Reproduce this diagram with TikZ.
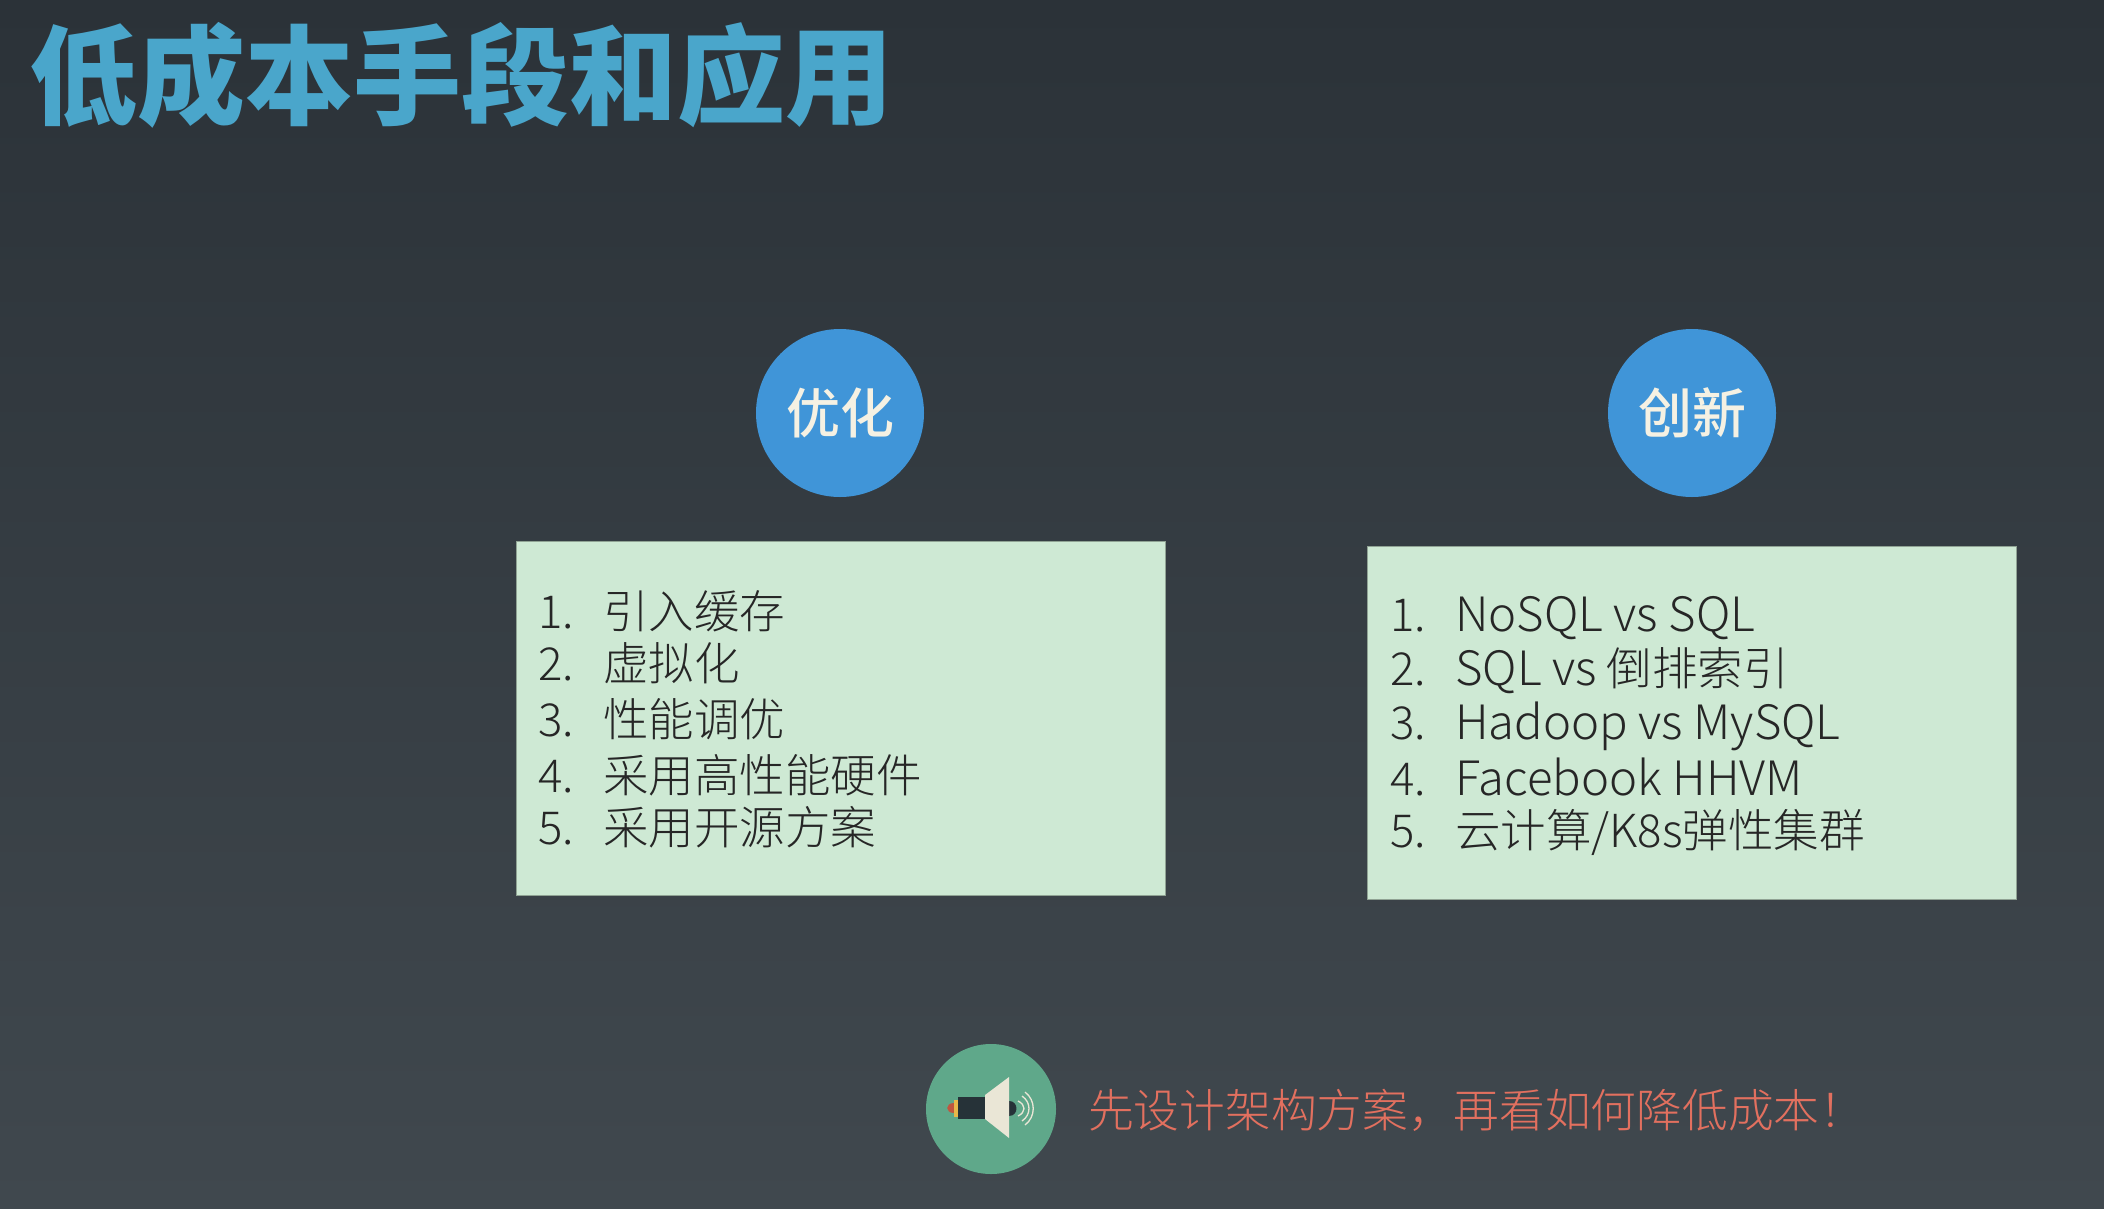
\documentclass[tikz,border=0pt]{standalone}
\usepackage{fontspec}
\setmainfont{Noto Sans CJK SC Light}
\newfontfamily\titlefont{Noto Sans CJK SC Black}
\newfontfamily\circlefont{Noto Sans CJK SC Medium}
\newfontfamily\latinfont[Scale=1.04]{Noto Sans CJK SC Light}
\newcommand\lat[1]{{\latinfont #1}}
\definecolor{box area}{HTML}{CEE9D4}
\definecolor{circle area}{HTML}{4095D8}
\definecolor{circle text}{HTML}{F5F1E3}
\definecolor{title text}{HTML}{4AA6CB}
\definecolor{note text}{HTML}{E2705F}
\definecolor{note area}{HTML}{5FA88A}
\definecolor{horn dark}{HTML}{263238}
\definecolor{horn cone}{HTML}{EAE6D6}
\definecolor{horn red}{HTML}{C0563F}
\definecolor{horn yellow}{HTML}{E8B84A}
\definecolor{back top}{HTML}{2B3238}
\definecolor{back bottom}{HTML}{40484E}
\tikzset{listbox/.style={fill=box area, draw=box area!70!black, line width=0.6pt},
    headcircle/.style={circle, fill=circle area, minimum size=168pt, inner sep=0pt,
      text=circle text, font=\circlefont\fontsize{54}{60}\selectfont},
    rowtext/.style={anchor=base west, inner sep=0pt, text=black!85, font=\fontsize{45.5}{54}\selectfont}}

\begin{document}
\begin{tikzpicture}[x=1pt,y=-1pt]
    \path[use as bounding box] (0,0) rectangle (2104,1208);
    \shade[top color=back top, bottom color=back bottom] (0,0) rectangle (2104,1208);
    \node[anchor=west, inner sep=0pt, text=title text, font=\titlefont\fontsize{108}{120}\selectfont]
      (title) at (29,75) {低成本手段和应用};
    \node[headcircle] (optcircle) at (840,413) {优化};
    \node[headcircle] (newcircle) at (1692,413) {创新};
    \draw[listbox] (516,541) rectangle (1165,895);
    \draw[listbox] (1367.5,546) rectangle (2016,899);
    \foreach \n/\t/\y in {1/引入缓存/628, 2/虚拟化/680, 3/性能调优/736, 4/采用高性能硬件/792, 5/采用开源方案/844} {
      \node[rowtext] (optnum\n) at (538,\y) {\n.};
      \node[rowtext] (opt\n) at (603,\y) {\t};
    }
    \foreach \n/\t/\y in {1/{\lat{NoSQL vs SQL}}/631, 2/{\lat{SQL vs} 倒排索引}/685, 3/{\lat{Hadoop vs MySQL}}/739, 4/{\lat{Facebook HHVM}}/795, 5/{云计算/K8s弹性集群}/847} {
      \node[rowtext] (newnum\n) at (1390,\y) {\n.};
      \node[rowtext] (new\n) at (1455,\y) {\t};
    }
    \node[circle, fill=note area, minimum size=130pt, inner sep=0pt] (horn) at (991,1109) {};
    \fill[horn red] (954,1103) .. controls (945,1103) and (945,1113) .. (954,1113) -- cycle;
    \fill[horn yellow] (954,1100) rectangle (958,1117);
    \fill[horn dark] (958,1097) rectangle (985,1119);
    \fill[horn dark] (1009,1101) .. controls (1019,1101) and (1019,1116) .. (1009,1116) -- cycle;
    \fill[horn cone] (985,1095) -- (1009,1077) -- (1009,1138) -- (985,1119) -- cycle;
    \foreach \a/\b/\c in {1018/7.5/1026, 1022/12.5/1031.3, 1025/16.5/1036} {
      \draw[horn cone, line width=1.3pt] (\a,1108.5-\b) .. controls (\c,1108.5-\b/2) and (\c,1108.5+\b/2) .. (\a,1108.5+\b);
    }
    \node[anchor=west, inner sep=0pt, text=note text, font=\fontsize{45.7}{54}\selectfont]
      (note) at (1088,1110) {先设计架构方案，再看如何降低成本！};
\end{tikzpicture}
\end{document}
